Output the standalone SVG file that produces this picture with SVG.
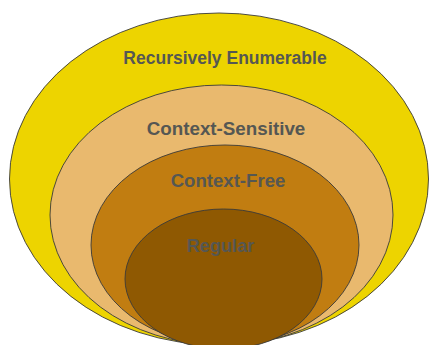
<svg xmlns="http://www.w3.org/2000/svg" width="430" height="345" viewBox="0 0 430 345">
<style>
.e{stroke:#3a3a3a;stroke-width:0.9}
.t{font-family:"Liberation Sans",Arial,sans-serif;font-weight:bold;fill:#555753;text-anchor:middle}
</style>
<rect width="430" height="345" fill="#ffffff"/>
<g id="re">
<ellipse class="e" cx="219" cy="179" rx="209.5" ry="166" fill="#EDD400"/>
<text class="t" x="225" y="64" font-size="17.5">Recursively Enumerable</text>
</g>
<g id="cs">
<ellipse class="e" cx="221.5" cy="215" rx="171.5" ry="130" fill="#E9B96E"/>
<text class="t" x="226" y="135" font-size="18.8">Context-Sensitive</text>
</g>
<g id="cf">
<ellipse class="e" cx="225" cy="245" rx="134" ry="100" fill="#C17D11"/>
<text class="t" x="228" y="187" font-size="18.6">Context-Free</text>
</g>
<g id="reg">
<ellipse class="e" cx="223.5" cy="279" rx="98.5" ry="70" fill="#8F5902"/>
<text class="t" x="220.5" y="252" font-size="18.2">Regular</text>
</g>
<g id="connectors"/>
</svg>
